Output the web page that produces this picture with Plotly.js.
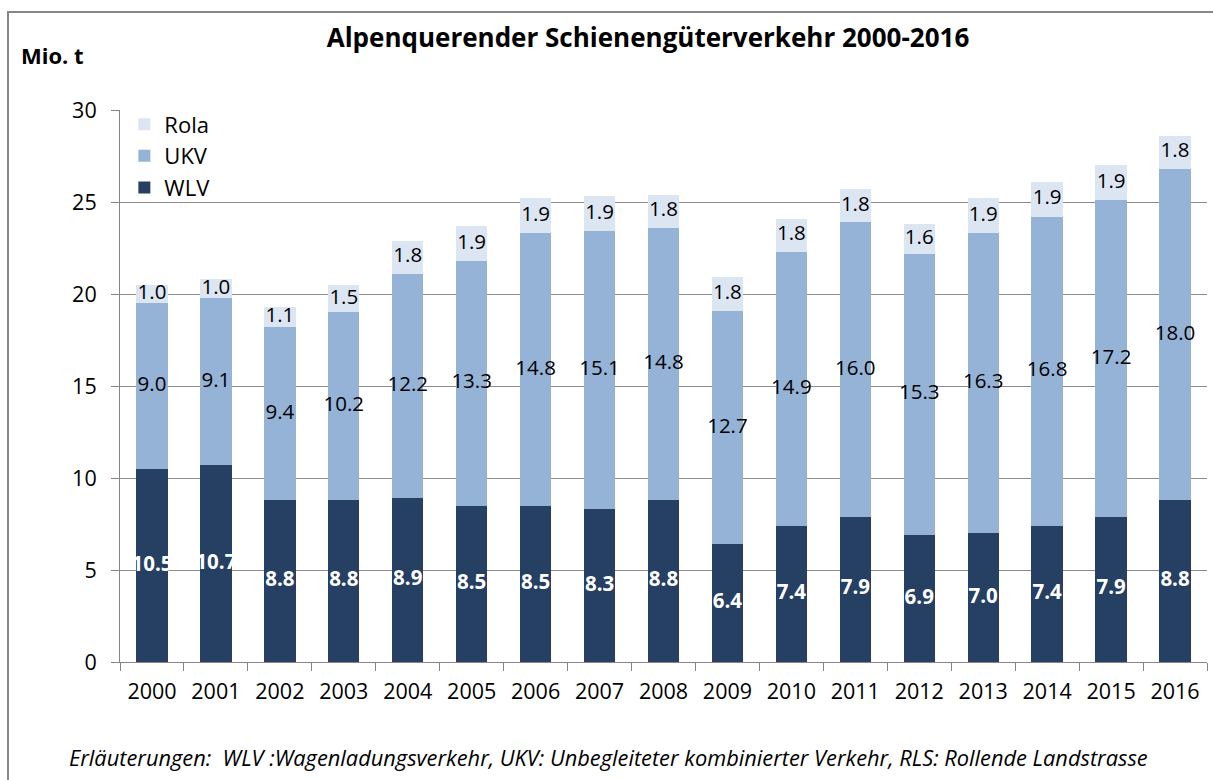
<!DOCTYPE html>
<html>
<head>
<meta charset="utf-8">
<script src="https://cdn.plot.ly/plotly-3.0.1.min.js"></script>
<style>html,body{margin:0;padding:0;background:#fff;}#chart{width:1213px;height:780px;}</style>
</head>
<body>
<div id="chart"></div>
<script>
const years = ["2000","2001","2002","2003","2004","2005","2006","2007","2008","2009","2010","2011","2012","2013","2014","2015","2016"];
const wlv  = [10.5,10.7,8.8,8.8,8.9,8.5,8.5,8.3,8.8,6.4,7.4,7.9,6.9,7.0,7.4,7.9,8.8];
const ukv  = [9.0,9.1,9.4,10.2,12.2,13.3,14.8,15.1,14.8,12.7,14.9,16.0,15.3,16.3,16.8,17.2,18.0];
const rola = [1.0,1.0,1.1,1.5,1.8,1.9,1.9,1.9,1.8,1.8,1.8,1.8,1.6,1.9,1.9,1.9,1.8];
const seriesNames = ["WLV","UKV","Rola"];
const seriesColors = ["#264064","#95b3d7","#dce6f2"];
const titleText = "Alpenquerender Schienengüterverkehr 2000-2016";
const yUnit = "Mio. t";
const footnote = "Erläuterungen:  WLV :Wagenladungsverkehr, UKV: Unbegleiteter kombinierter Verkehr, RLS: Rollende Landstrasse";

const FONT = "Open Sans, sans-serif";
const series = [wlv, ukv, rola];
const traces = [];
series.forEach((vals, i) => {
  traces.push({
    type: "bar", x: years, y: vals, name: seriesNames[i],
    marker: {color: seriesColors[i], line: {width: 0}},
    hoverinfo: "skip"
  });
});
// label traces at segment centers
series.forEach((vals, i) => {
  const yc = vals.map((v, k) => {
    let base = 0;
    for (let j = 0; j < i; j++) base += series[j][k];
    return base + v / 2;
  });
  traces.push({
    type: "scatter", mode: "text", x: years, y: yc,
    text: vals.map(v => v.toFixed(1)),
    textposition: "middle center",
    textfont: {family: FONT, size: 20.5, color: i === 0 ? "#ffffff" : "#000000", weight: i === 0 ? "bold" : "normal"},
    showlegend: false, hoverinfo: "skip", cliponaxis: false
  });
});

const layout = {
  width: 1213, height: 780,
  margin: {l: 120, r: 6, t: 110, b: 118},
  paper_bgcolor: "#ffffff", plot_bgcolor: "#ffffff",
  barmode: "stack", bargap: 0.51,
  showlegend: true,
  legend: {x: 0.004, y: 1.012, xanchor: "left", yanchor: "top", traceorder: "reversed",
           font: {family: FONT, size: 22, color: "#000"}, bgcolor: "rgba(0,0,0,0)", itemwidth: 30},
  title: {text: "<b>" + titleText + "</b>", font: {family: FONT, size: 26, color: "#000"},
          x: 648 / 1213, xref: "container", xanchor: "center", y: 1 - 38 / 780, yref: "container", yanchor: "middle"},
  font: {family: FONT, color: "#000"},
  xaxis: {type: "category", range: [-0.5, 16.5], autorange: false, showgrid: false, showline: true, linecolor: "#868686", linewidth: 1,
          ticks: "outside", ticklen: 8, tickcolor: "#868686", tickson: "boundaries", ticklabelstandoff: 10,
          tickfont: {family: FONT, size: 21.5, color: "#000"}, fixedrange: true},
  yaxis: {range: [0, 30], autorange: false, dtick: 5, showgrid: true, gridcolor: "#8c8c8c", gridwidth: 1,
          showline: true, linecolor: "#868686", linewidth: 1, ticks: "outside", ticklen: 8, tickcolor: "#868686",
          ticklabelstandoff: 10,
          tickfont: {family: FONT, size: 21.5, color: "#000"}, zeroline: false, fixedrange: true},
  annotations: [
    {text: "<b>" + yUnit + "</b>", xref: "paper", yref: "paper", x: (19 - 120) / 1087, y: (662 - 55) / 552,
     xanchor: "left", yanchor: "middle", showarrow: false, font: {family: FONT, size: 22, color: "#000"}},
    {text: "<i>" + footnote + "</i>", xref: "paper", yref: "paper", x: (67 - 120) / 1087, y: (662 - 757) / 552,
     xanchor: "left", yanchor: "middle", showarrow: false, font: {family: FONT, size: 21.8, color: "#000"}}
  ],
  shapes: [
    {type: "rect", xref: "paper", yref: "paper", x0: (8 - 120) / 1087, x1: (1225 - 120) / 1087,
     y0: (662 - 795) / 552, y1: (662 - 12) / 552, line: {color: "#878787", width: 2}, fillcolor: "rgba(0,0,0,0)", layer: "below"}
  ]
};
Plotly.newPlot("chart", traces, layout, {displayModeBar: false, staticPlot: true});
</script>
</body>
</html>
